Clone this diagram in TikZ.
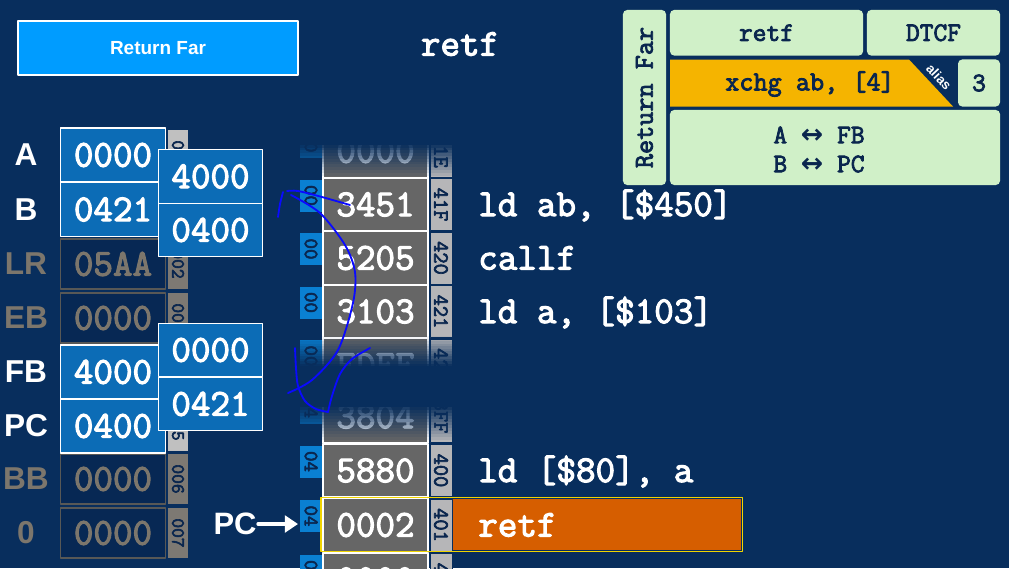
\documentclass[tikz,border=0pt]{standalone}
\usepackage{fontspec}
\setsansfont{Liberation Sans}
\setmonofont{Latin Modern Mono}[AutoFakeBold=3]
\newfontfamily\arrowfont{DejaVu Sans}
\usetikzlibrary{arrows.meta}

\definecolor{bg}{RGB}{8,46,93}
\definecolor{btnblue}{RGB}{0,156,255}
\definecolor{regblue}{RGB}{12,108,182}
\definecolor{dimfill}{RGB}{7,40,84}
\definecolor{dimline}{RGB}{88,88,86}
\definecolor{dimtxt}{RGB}{124,118,108}
\definecolor{stripl}{RGB}{192,192,192}
\definecolor{stripd}{RGB}{125,121,115}
\definecolor{memgray}{RGB}{102,102,102}
\definecolor{addrgray}{RGB}{182,182,184}
\definecolor{tagblue}{RGB}{10,128,210}
\definecolor{cardgreen}{RGB}{208,240,200}
\definecolor{cardtxt}{RGB}{10,38,78}
\definecolor{cardorange}{RGB}{245,180,0}
\definecolor{hlorange}{RGB}{214,94,0}
\definecolor{hlyellow}{RGB}{240,212,0}
\definecolor{ink}{RGB}{10,10,255}

\newcommand\monof[1]{\ttfamily\bfseries\fontsize{#1}{#1}\selectfont}
\newcommand\sansf[1]{\sffamily\bfseries\fontsize{#1}{#1}\selectfont}

\tikzset{
  reglbl/.style={text=white, font=\sansf{22.5}, inner sep=1pt},
  regbox/.style={draw=white, line width=0.8pt, fill=regblue, text=white, font=\monof{27},
    minimum width=2.62cm, minimum height=1.35cm, inner sep=0pt},
  regdim/.style={regbox, draw=dimline, fill=dimfill, text=dimtxt, minimum height=1.25cm},
  regstrip/.style={rotate=-90, fill=stripl, text=cardtxt, font=\monof{13.5},
    minimum width=1.25cm, minimum height=0.5cm, inner sep=0pt},
  memcell/.style={draw=white, line width=1.3pt, fill=memgray, text=white, font=\monof{27},
    minimum width=2.62cm, minimum height=1.33cm, inner sep=0pt},
  memtag/.style={rotate=-90, fill=tagblue, text=cardtxt, font=\monof{14.5},
    minimum width=0.8cm, minimum height=0.55cm, inner sep=0pt},
  memaddr/.style={rotate=-90, draw=bg, line width=0.4pt, fill=addrgray, text=cardtxt,
    font=\monof{15.5}, minimum width=1.3cm, minimum height=0.55cm, inner sep=0pt},
  codeline/.style={text=white, font=\monof{27}, inner sep=0pt},
  cardcell/.style={fill=cardgreen, rounded corners=3pt, text=cardtxt, font=\monof{19}, inner sep=0pt},
  inkline/.style={ink, line width=1.3pt},
}

\begin{document}
\begin{tikzpicture}[x=0.025cm, y=-0.025cm, line join=round, line cap=round]
\useasboundingbox (0,0) rectangle (1009,568);
\fill[bg] (0,0) rectangle (1009,568);

% title
\node[draw=white, line width=1.5pt, fill=btnblue, text=white, font=\sansf{13.5},
  minimum width=7cm, minimum height=1.35cm] (btnret) at (158,48) {Return Far};
\node[codeline] (title) at (460,44) {retf};

% registers
\foreach \nm/\val/\yy/\adr in {LR/05AA/264/002, EB/0000/318/003, BB/0000/479/006, 0/0000/533/007}{
  \node[reglbl, text=dimtxt] (lbl\nm) at (26,\yy) {\nm};
  \node[regdim] (reg\nm) at (113,\yy) {\val};
  \node[regstrip, fill=stripd] (radr\nm) at (178,\yy) {\adr};
}
\foreach \nm/\val/\yy/\adr in {A/0000/155/000, B/0421/209.5/001, FB/4000/372/004, PC/0400/426/005}{
  \node[reglbl] (lbl\nm) at (26,\yy) {\nm};
  \node[regstrip] (radr\nm) at (178,\yy) {\adr};
  \node[regbox] (reg\nm) at (113,\yy) {\val};
}
% exchanged values
\foreach \val/\yy [count=\i] in {4000/176.5, 0400/230, 0000/350, 0421/404}
  \node[regbox, minimum height=1.34cm] (swap\i) at (210.5,\yy) {\val};

% memory
\fill[hlorange] (452,499) rectangle (741,550);
\foreach \val/\yy/\tg/\adr in {0000/151/00/41E, 3451/204.5/00/41F, 5205/258/00/420,
    3103/311.5/00/421, FDFF/365/00/422, 3804/416.5/04/3FF, 5880/470.5/04/400,
    0002/525/04/401, 0000/579.5/04/402}{
  \node[memcell] (mem\adr) at (375.5,\yy) {\val};
  \node[memtag] (tag\adr) at (311,\yy-9) {\tg};
  \node[memaddr] (adr\adr) at (441,\yy) {\adr};
}
\draw[hlyellow, line width=1.4pt] (321,497.5) rectangle (742.5,551.5);

% fades
\fill[bg] (296,118) rectangle (456,142.5);
\foreach \k [evaluate=\k as \op using 1-\k/12] in {0,...,11}
  \fill[bg, opacity=\op] (296,{142+\k*2.8}) rectangle (456,{142+(\k+1)*2.8});
\foreach \k [evaluate=\k as \op using (\k+0.5)/12] in {0,...,11}
  \fill[bg, opacity=\op] (296,{336+\k*2.5}) rectangle (456,{336+(\k+1)*2.5});
\fill[bg] (296,365.5) rectangle (456,404.5);
\foreach \k [evaluate=\k as \op using 1-\k/12] in {0,...,11}
  \fill[bg, opacity=\op] (296,{404+\k*3}) rectangle (456,{404+(\k+1)*3});

% code
\foreach \cd/\yy [count=\i] in {{ld ab, [\$450]}/204.5, {callf}/258, {ld a, [\$103]}/311.5,
    {ld [\$80], a}/470.5, {retf}/525}
  \node[codeline, anchor=base west] (code\i) at (478,\yy+11.5) {\cd};

\node[reglbl, font=\sansf{22}] (pcptr) at (235,524) {PC};
\coordinate (pctip) at (298,524);
\draw[white, line width=2.6pt, -{Triangle[length=0.33cm, width=0.42cm]}] (pcptr.east) -- (pctip);

% instruction card
\node[cardcell, rotate=90, minimum width=4.375cm, minimum height=1.075cm, font=\monof{19.5}]
  (cside) at (644.5,97.5) {Return Far};
\node[cardcell, minimum width=4.825cm, minimum height=1.14cm] (cname) at (766.5,32.75) {retf};
\node[cardcell, minimum width=3.325cm, minimum height=1.14cm] (cflags) at (933.5,32.75) {DTCF};
\fill[cardorange] (670,59.5) -- (909,59.5) -- (953,106.5) -- (670,106.5) -- cycle;
\node[text=cardtxt, font=\monof{19.5}] (calias) at (810,84) {xchg ab, [4]};
\node[text=white, font=\sansf{9.5}, rotate=-47, inner sep=0pt] (aliastag) at (939,77) {alias};
\node[cardcell, minimum width=1.05cm, minimum height=1.175cm] (ccyc) at (979,83) {3};
\node[cardcell, minimum width=8.25cm, minimum height=1.875cm] (cops) at (835,147.5) {};
\node[text=cardtxt, font=\monof{19}, align=center] (cswap) at (819,149.5)
  {A {\arrowfont\bfseries ↔} FB\\[1.6pt]B {\arrowfont\bfseries ↔} PC};

% pen strokes
\draw[inkline] plot[smooth] coordinates {(278,217) (280,204) (283,192)};
\draw[inkline] plot[smooth] coordinates {(287,191) (298,191) (322,197) (350,205)};
\draw[inkline] plot[smooth] coordinates {(291,195) (320,213) (345,245) (355,272) (353,303)
  (338,350) (312,380) (288,393)};
\draw[inkline] plot[smooth] coordinates {(295,348) (296,368) (298,386) (305,401) (316,409) (328,412)};
\draw[inkline] plot[smooth] coordinates {(328,412) (332,396) (340,374) (352,359) (370,348)};
\end{tikzpicture}
\end{document}
